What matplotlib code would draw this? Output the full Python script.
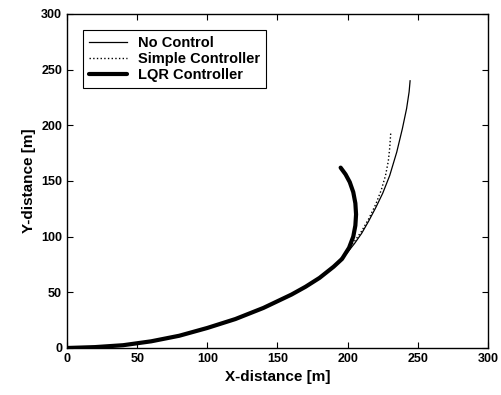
import matplotlib
matplotlib.use("Agg")
import matplotlib.pyplot as plt
import numpy as np

# Common initial path (shared by all three trajectories)
common_x = [0, 20, 40, 60, 80, 100, 120, 140, 160, 170, 180, 190]
common_y = [0, 0.8, 2.5, 6, 11, 18, 26, 36, 48, 55, 63, 73]

nocontrol_x = common_x + [195, 200, 205, 210, 215, 220, 225, 230, 235, 239, 242, 243.8, 244.5]
nocontrol_y = common_y + [79, 86, 94, 103, 114, 126, 139, 155, 176, 197, 215, 230, 240]

simple_x = common_x + [195, 200, 205, 210, 215, 220, 224, 227, 229, 230, 230.7]
simple_y = common_y + [80, 88, 96, 105, 116, 129, 142, 155, 168, 180, 193]

lqr_x = common_x + [196, 201, 204, 205.5, 206, 205.5, 204, 201.5, 198.5, 195]
lqr_y = common_y + [80, 90, 100, 110, 120, 130, 140, 149, 156, 162]

labels = ["No Control", "Simple Controller", "LQR Controller"]
xticks = [0, 50, 100, 150, 200, 250, 300]
yticks = [0, 50, 100, 150, 200, 250, 300]

plt.rcParams['font.family'] = ['Liberation Sans Narrow', 'Liberation Sans', 'DejaVu Sans']

fig = plt.figure(figsize=(5.01, 3.95), dpi=100)
ax = fig.add_axes([0.1337, 0.119, 0.8403, 0.8456])

ax.plot(nocontrol_x, nocontrol_y, color='black', lw=0.9, ls='-', label=labels[0])
ax.plot(simple_x, simple_y, color='black', lw=1.0, ls=':', label=labels[1])
ax.plot(lqr_x, lqr_y, color='black', lw=3.0, ls='-', label=labels[2],
        solid_capstyle='round', solid_joinstyle='round')

ax.set_xlim(0, 300)
ax.set_ylim(0, 300)
ax.set_xticks(xticks)
ax.set_yticks(yticks)
ax.tick_params(direction='in', top=True, right=True, length=4, labelsize=9)
for lbl in ax.get_xticklabels() + ax.get_yticklabels():
    lbl.set_fontweight('bold')
for s in ax.spines.values():
    s.set_linewidth(1.0)

ax.set_xlabel("X-distance [m]", fontsize=11, fontweight='bold', family=['Liberation Sans', 'DejaVu Sans'])
ax.set_ylabel("Y-distance [m]", fontsize=11, fontweight='bold', family=['Liberation Sans', 'DejaVu Sans'])

leg = ax.legend(loc='upper left', bbox_to_anchor=(0.038, 0.952), borderaxespad=0,
                fancybox=False, framealpha=1, edgecolor='black',
                prop={'family': ['Liberation Sans', 'DejaVu Sans'], 'weight': 'bold', 'size': 10.5},
                handlelength=2.6, labelspacing=0.15, borderpad=0.4)
leg.get_frame().set_linewidth(0.8)

fig.savefig("out.png", dpi=100)
